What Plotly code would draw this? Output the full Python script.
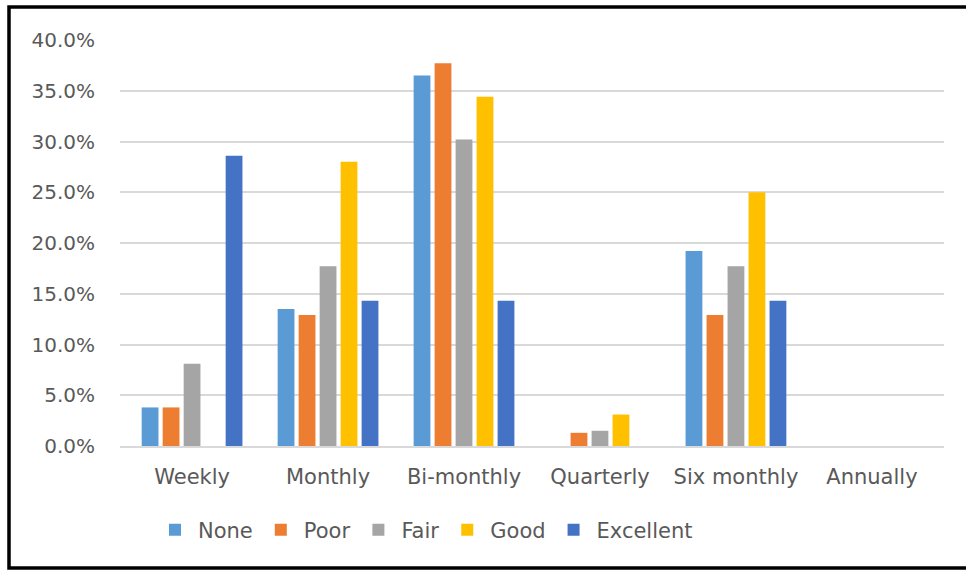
import plotly.graph_objects as go

# Frequency categories on the x axis
categories = ["Weekly", "Monthly", "Bi-monthly", "Quarterly", "Six monthly", "Annually"]

# Share of respondents (%) in each rating group
none_vals = [3.8, 13.5, 36.5, 0.0, 19.2, 0.0]
poor_vals = [3.8, 12.9, 37.7, 1.3, 12.9, 0.0]
fair_vals = [8.1, 17.7, 30.2, 1.5, 17.7, 0.0]
good_vals = [0.0, 28.0, 34.4, 3.1, 25.0, 0.0]
excellent_vals = [28.6, 14.3, 14.3, 0.0, 14.3, 0.0]

series = [
    ("None", none_vals, "#5B9BD5"),
    ("Poor", poor_vals, "#ED7D31"),
    ("Fair", fair_vals, "#A5A5A5"),
    ("Good", good_vals, "#FFC000"),
    ("Excellent", excellent_vals, "#4472C4"),
]

y_ticks = [0, 5, 10, 15, 20, 25, 30, 35, 40]
y_tick_text = [f"{v:.1f}%" for v in y_ticks]

fig = go.Figure()
for name, vals, color in series:
    fig.add_trace(go.Bar(
        x=categories, y=vals, name=name,
        marker=dict(color=color, line=dict(width=0)),
    ))

W, H = 966, 572
L, R, T, B = 120, 22, 40, 126
pw, ph = W - L - R, H - T - B

def px_x(p):
    return (p - L) / pw

def px_y(p):
    return (H - B - p) / ph

FAMILY = "DejaVu Sans, Verdana, sans-serif"
GREY = "#595959"
pad = 0.03

fig.update_layout(
    width=W, height=H,
    margin=dict(l=L, r=R, t=T, b=B, pad=0),
    paper_bgcolor="white", plot_bgcolor="white",
    barmode="group", bargap=0.228, bargroupgap=0.2,
    font=dict(family=FAMILY, size=20, color=GREY),
    showlegend=True,
    legend=dict(
        orientation="h", x=px_x(152), xanchor="left",
        y=px_y(530), yanchor="middle",
        font=dict(family=FAMILY, size=21, color=GREY),
        itemwidth=36, traceorder="normal",
        bgcolor="rgba(0,0,0,0)",
    ),
    xaxis=dict(
        range=[-0.5 - pad, len(categories) - 0.5 + pad],
        showgrid=False, showline=True, linecolor="#D9D9D9", linewidth=1.5,
        ticks="", ticklabelstandoff=11,
        tickfont=dict(family=FAMILY, size=21, color=GREY),
    ),
    yaxis=dict(
        range=[0, 40], tickvals=y_ticks, ticktext=y_tick_text,
        showgrid=True, gridcolor="#D9D9D9", gridwidth=1.5,
        zeroline=False, showline=False, ticks="",
        ticklabelstandoff=24,
        tickfont=dict(family=FAMILY, size=20, color=GREY),
    ),
    shapes=[
        dict(type="rect", xref="paper", yref="paper",
             x0=px_x(9), x1=px_x(975), y0=px_y(568), y1=px_y(7),
             line=dict(color="black", width=3.5), fillcolor="rgba(0,0,0,0)", layer="above"),
    ],
)

fig.write_html("out.html")
